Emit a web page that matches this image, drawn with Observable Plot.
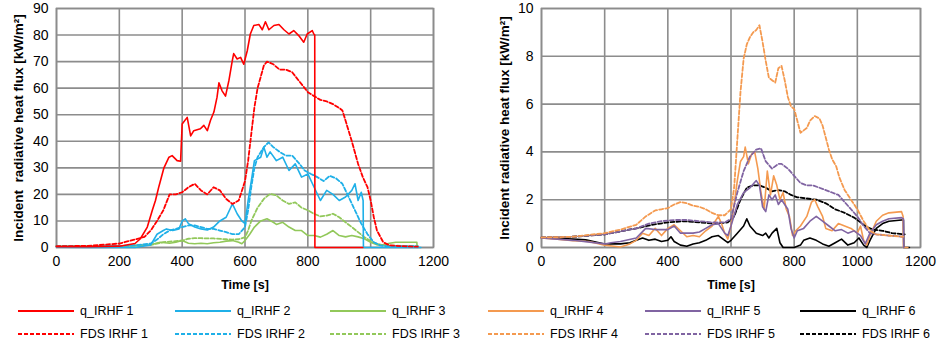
<!DOCTYPE html>
<html>
<head>
<meta charset="utf-8">
<script src="https://cdn.jsdelivr.net/npm/d3@7"></script>
<script src="https://cdn.jsdelivr.net/npm/@observablehq/plot@0.6"></script>
<style>
  body { margin: 0; background: #fff; font-family: "Liberation Sans", Arial, sans-serif; }
  #wrap { position: relative; width: 937px; height: 350px; overflow: hidden; }
  .chart { position: absolute; top: 0; }
  .chart svg { font-family: "Liberation Sans", Arial, sans-serif; }
  .chart [aria-label="y-axis label"] text { font-weight: bold; font-size: 13.5px; fill: #000; }
  .chart [aria-label="x-axis label"] text { font-weight: bold; font-size: 12.5px; fill: #000; }
  .leg { position: absolute; display: flex; align-items: center; font-size: 12.5px; color: #000; white-space: nowrap; }
  .leg svg { margin-right: 6px; }
</style>
</head>
<body>
<div id="wrap">
  <div id="left" class="chart" style="left:0px"></div>
  <div id="right" class="chart" style="left:470px"></div>
  <div id="legend"></div>
</div>
<script>
// ---------- Data (time [s], flux [kW/m²]) ----------
const q1 = [[0,0.3],[100,0.3],[200,0.5],[250,1.5],[267,3.3],[289,7.7],[305,14],[315,17.7],[326,23],[342,30],[358,34],[368,34.6],[384,32.7],[395,32.5],[400,46.5],[416,49],[427,42],[437,44],[458,44.7],[469,46],[480,44],[490,47.8],[501,51],[511,56.6],[517,62],[527,59],[538,57],[549,63],[559,70],[564,73],[575,71],[586,71.6],[596,69],[607,74],[617,80.4],[628,83.6],[644,84],[655,82],[665,85],[676,82],[692,83.6],[708,84],[724,82],[740,80.4],[755,81.7],[771,79.8],[787,77.3],[798,80.4],[814,81.7],[819,80.4],[822,80],[822.5,0],[975,0]];
const fds1 = [[0,0.5],[100,0.6],[200,1.5],[250,3],[280,4],[300,6.4],[320,10],[340,14],[360,20],[380,20],[400,20.8],[420,22.7],[440,24],[460,21.5],[480,20],[500,22.7],[520,21.5],[540,18.3],[560,16.4],[580,17.7],[600,25],[610,32.7],[620,42.8],[630,52.8],[640,60],[660,68.5],[670,70],[690,69],[710,67],[730,67],[750,66],[770,63],[790,60],[800,58.5],[820,57],[840,55.6],[860,55],[880,54],[900,52.5],[910,51.6],[920,47.8],[940,40],[960,31.5],[975,26.5],[990,22.7],[1000,17.7],[1010,11.4],[1020,6.4],[1040,2],[1060,0.8],[1100,0.5],[1150,0.3]];
const q2 = [[0,0.1],[100,0],[200,0],[250,0],[300,1],[320,5],[340,6.4],[350,7],[370,6.4],[390,7],[400,10],[410,10.8],[420,9],[440,7.7],[460,7],[480,6.6],[500,7.7],[520,10],[540,11.4],[560,16.4],[575,12.7],[590,10],[600,9],[610,17.7],[620,25],[630,32.7],[650,34],[660,37.8],[670,34],[680,36],[700,32.7],[720,34],[740,29],[760,31.5],[780,26.5],[800,27.7],[820,22.7],[840,17.7],[860,21.5],[880,20],[900,17.7],[920,19],[940,21.5],[950,24],[960,17.7],[970,20.8],[976,17.7],[977,0],[1160,0]];
const fds2 = [[0,0.5],[100,0.5],[200,0.6],[250,0.8],[300,1.5],[320,3],[340,5],[360,6.4],[380,7],[400,7.7],[420,8.3],[440,8.3],[460,7.7],[480,7],[500,7],[520,6.4],[540,5.8],[560,5],[580,5],[600,7.7],[610,14],[620,22.7],[630,30],[640,34],[660,37.8],[675,39.6],[690,37.8],[710,36],[730,34.6],[750,34.6],[770,32],[790,29],[810,27.7],[830,26.5],[850,25],[870,27],[890,26],[910,24],[930,19],[950,14],[970,9],[990,5],[1010,2],[1030,0.8],[1050,0.5],[1150,0.5]];
const q3 = [[0,0.5],[100,0.5],[200,0.5],[300,1],[330,2],[360,1.6],[380,2],[400,2.6],[420,1.6],[440,1.4],[460,1.6],[480,1.4],[500,1.8],[520,2],[540,2.4],[560,2.6],[580,2],[590,1.4],[600,2.6],[615,5],[630,7.7],[650,10],[670,10.8],[690,9.5],[700,8.7],[720,9.5],[740,7.7],[760,6.4],[780,6.4],[800,4.5],[820,4.5],[840,3.9],[860,5],[880,6.4],[900,4.5],[920,4],[940,4.5],[960,4],[980,3.3],[1000,2],[1020,1],[1040,1],[1060,1.6],[1080,2],[1100,2],[1147,2],[1148,0]];
const fds3 = [[0,0.5],[100,0.5],[200,0.5],[300,1],[340,2],[380,2.4],[400,2.6],[420,3.3],[440,3.5],[460,3.5],[500,3.4],[540,3.1],[560,3],[580,3.1],[600,3.9],[610,6.4],[620,10],[640,15],[660,18.3],[680,20.2],[700,19.6],[720,17.7],[740,16.4],[760,17],[780,15],[800,14],[820,12.7],[840,11.7],[860,12],[880,12.7],[900,11.4],[920,9.5],[940,7.7],[960,5.8],[980,3.9],[1000,2.4],[1020,1.4],[1040,0.8],[1150,0.5]];

const q4 = [[0,0.4],[50,0.35],[100,0.28],[150,0.25],[200,0.1],[230,0.05],[250,0.02],[280,0.15],[300,0.3],[320,0.6],[340,0.5],[360,0.8],[380,0.5],[400,0.8],[420,0.95],[440,0.7],[460,0.45],[480,0.5],[500,0.45],[520,0.7],[540,0.9],[560,1.3],[570,1.0],[580,0.6],[590,0.35],[600,0.9],[610,1.8],[620,2.8],[630,3.6],[640,3.8],[645,4.2],[655,3.5],[665,3.9],[675,4.0],[685,3.3],[695,2.3],[705,1.6],[715,3.2],[725,2.2],[735,3.0],[745,2.6],[755,2.0],[765,2.3],[775,1.6],[785,1.3],[795,0.5],[805,0.7],[820,0.9],[840,1.3],[855,1.9],[865,2.0],[875,1.7],[890,1.3],[900,0.8],[920,0.7],[940,1.0],[960,0.9],[980,0.8],[1000,0.6],[1010,0.9],[1020,0.3],[1030,0.1],[1040,0.5],[1060,1.1],[1080,1.35],[1100,1.45],[1140,1.5],[1145,1.3],[1146,0],[1160,0]];
const q5 = [[0,0.4],[100,0.3],[200,0.15],[220,0.2],[250,0.25],[300,0.4],[330,0.8],[360,0.75],[400,0.75],[420,0.9],[440,0.6],[460,0.6],[480,0.6],[500,0.65],[520,0.8],[540,0.95],[560,1.0],[580,0.6],[590,0.5],[600,0.9],[620,1.8],[640,2.3],[660,2.5],[680,2.8],[690,2.6],[700,1.7],[710,1.5],[720,2.2],[730,2.0],[740,2.2],[750,1.8],[760,2.0],[780,1.6],[790,0.8],[800,0.4],[810,0.7],[830,0.8],[850,1.1],[870,1.3],[890,1.1],[910,0.9],[930,0.7],[950,0.75],[970,0.6],[990,0.7],[1010,0.5],[1025,0.15],[1040,0.6],[1060,0.95],[1080,1.1],[1100,1.2],[1140,1.25],[1146,1.2],[1147,0]];
const q6 = [[0,0.4],[50,0.38],[100,0.35],[140,0.32],[200,0.15],[250,0.15],[280,0.2],[300,0.3],[320,0.4],[340,0.3],[360,0.35],[380,0.25],[400,0.3],[410,0.45],[420,0.25],[440,0.1],[460,0.05],[480,0.15],[500,0.2],[520,0.3],[540,0.45],[560,0.5],[575,0.35],[590,0.2],[600,0.3],[620,0.6],[640,0.9],[650,1.2],[660,0.9],[680,0.6],[700,0.5],[710,0.6],[720,0.4],[730,0.6],[745,0.8],[755,0.2],[765,0],[800,0],[820,0.1],[830,0.3],[850,0.4],[870,0.3],[890,0.15],[910,0.05],[930,0.2],[950,0.35],[970,0.1],[990,0.2],[1005,0.4],[1020,0.1],[1030,0],[1040,0.3],[1060,0.8],[1080,1.0],[1100,1.1],[1140,1.15],[1146,1.15],[1147,0],[1165,0]];
const fds4 = [[0,0.42],[100,0.45],[200,0.6],[250,0.75],[300,0.95],[330,1.3],[360,1.55],[380,1.6],[400,1.65],[420,1.8],[440,1.9],[460,1.85],[480,1.75],[500,1.7],[520,1.6],[540,1.45],[560,1.35],[580,1.35],[600,1.6],[610,2.5],[620,4.5],[630,6.5],[640,7.9],[650,8.5],[660,8.8],[670,9.0],[680,9.1],[690,9.3],[700,8.6],[710,7.8],[720,7.1],[730,7.0],[740,6.9],[750,7.5],[760,7.6],[770,7.0],[780,6.3],[790,5.9],[800,5.8],[810,5.3],[820,4.8],[830,4.9],[840,5.0],[850,5.3],[865,5.5],[880,5.4],[890,5.1],[900,4.6],[910,4.1],[920,3.7],[933,3.4],[944,2.9],[960,2.4],[980,2.0],[1000,1.6],[1020,1.1],[1040,0.7],[1060,0.55],[1100,0.5],[1145,0.45]];
const fds5 = [[0,0.42],[100,0.45],[200,0.55],[300,0.8],[340,1.0],[380,1.1],[420,1.15],[460,1.15],[500,1.1],[540,1.05],[580,1.05],[600,1.2],[620,2.3],[640,3.2],[660,3.8],[680,4.1],[695,4.15],[710,3.6],[730,3.3],[750,3.5],[760,3.5],[780,3.3],[800,3.0],[820,2.7],[840,2.6],[860,2.6],[880,2.5],[900,2.4],[920,2.3],[940,2.2],[960,1.9],[980,1.6],[1000,1.3],[1020,0.9],[1040,0.6],[1060,0.55],[1100,0.5],[1145,0.45]];
const fds6 = [[0,0.42],[100,0.45],[200,0.55],[300,0.8],[350,0.95],[400,1.05],[450,1.1],[500,1.05],[550,1.0],[590,1.05],[610,1.3],[630,2.0],[650,2.5],[670,2.6],[690,2.6],[710,2.5],[730,2.35],[750,2.4],[770,2.35],[790,2.2],[810,2.1],[840,2.05],[870,2.0],[900,1.85],[930,1.6],[960,1.45],[990,1.25],[1010,1.05],[1030,0.85],[1050,0.75],[1080,0.7],[1110,0.6],[1150,0.55]];

const xTicks = [0, 200, 400, 600, 800, 1000, 1200];
const yTicksL = [0, 10, 20, 30, 40, 50, 60, 70, 80, 90];
const yTicksR = [0, 2, 4, 6, 8, 10];

const namesTop = ["q_IRHF 1", "q_IRHF 2", "q_IRHF 3", "q_IRHF 4", "q_IRHF 5", "q_IRHF 6"];
const namesBot = ["FDS IRHF 1", "FDS IRHF 2", "FDS IRHF 3", "FDS IRHF 4", "FDS IRHF 5", "FDS IRHF 6"];
const colors = ["#ff0000", "#1fb0e8", "#92c85a", "#f49a50", "#8064a2", "#000000"];

const gridColor = "#8c8c8c";
const DASH = "4,2.2";

function lineMarks(series) {
  return series.map(s => Plot.line(s.data, {
    x: d => d[0], y: d => d[1], stroke: s.color, strokeWidth: s.dash ? 1.8 : 1.6,
    strokeDasharray: s.dash ? DASH : null, curve: "linear"
  }));
}

function makeChart(opts) {
  return Plot.plot({
    width: opts.width, height: 300,
    marginLeft: opts.ml, marginRight: opts.mr, marginTop: 8, marginBottom: 53,
    style: { fontSize: "14px", fontFamily: "'Liberation Sans', Arial, sans-serif", color: "#000", background: "#fff" },
    x: { domain: [0, 1200], ticks: xTicks, tickFormat: d => String(d), label: "Time [s]", labelAnchor: "center", labelArrow: "none", labelOffset: 41, tickSize: 0, tickPadding: 9 },
    y: { domain: opts.ydom, ticks: opts.yticks, tickFormat: d => String(d), label: opts.ylabel, labelAnchor: "center", labelArrow: "none", labelOffset: opts.lo, tickSize: 0, tickPadding: 8 },
    marks: [
      Plot.gridX(xTicks, { stroke: gridColor, strokeOpacity: 1, strokeWidth: 1.6 }),
      Plot.gridY(opts.yticks, { stroke: gridColor, strokeOpacity: 1, strokeWidth: 1.6 }),
      Plot.frame({ stroke: gridColor, strokeWidth: 1.6 }),
      ...lineMarks(opts.series)
    ]
  });
}

const left = makeChart({
  width: 470, ml: 56, mr: 37, ydom: [0, 90], yticks: yTicksL, lo: 43,
  ylabel: "Incident\u00a0 radiative heat flux [kW/m²]",
  series: [
    { data: fds3, color: colors[2], dash: true },
    { data: q3, color: colors[2] },
    { data: fds2, color: colors[1], dash: true },
    { data: q2, color: colors[1] },
    { data: fds1, color: colors[0], dash: true },
    { data: q1, color: colors[0] }
  ]
});
document.getElementById("left").appendChild(left);

const right = makeChart({
  width: 467, ml: 71, mr: 17, ydom: [0, 10], yticks: yTicksR, lo: 42,
  ylabel: "Incident radiative heat flux [kW/m²]",
  series: [
    { data: fds6, color: colors[5], dash: true },
    { data: q6, color: colors[5] },
    { data: q4, color: colors[3] },
    { data: q5, color: colors[4] },
    { data: fds5, color: colors[4], dash: true },
    { data: fds4, color: colors[3], dash: true }
  ]
});
document.getElementById("right").appendChild(right);

// ---------- Legend ----------
const legX = [18, 175, 330, 488, 645, 800];
const legend = d3.select("#legend");
function addLegend(names, y, dash) {
  names.forEach((name, i) => {
    const item = legend.append("div").attr("class", "leg")
      .style("left", legX[i] + "px").style("top", (y - 8) + "px").style("height", "16px");
    const s = item.append("svg").attr("width", 56).attr("height", 4);
    s.append("line").attr("x1", 0).attr("x2", 56).attr("y1", 2).attr("y2", 2)
      .attr("stroke", colors[i]).attr("stroke-width", 2)
      .attr("stroke-dasharray", dash ? "4,2" : null);
    item.append("span").text(name);
  });
}
addLegend(namesTop, 311, false);
addLegend(namesBot, 334, true);
</script>
</body>
</html>
